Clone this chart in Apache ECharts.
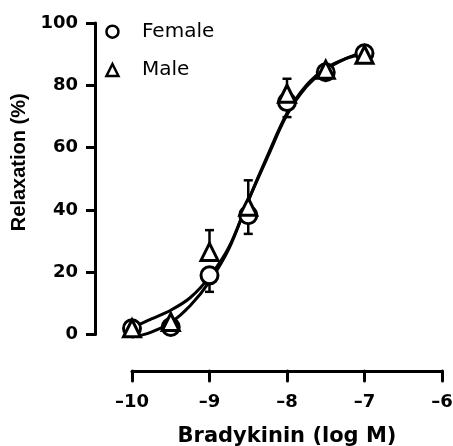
<!DOCTYPE html>
<html>
<head>
<meta charset="utf-8">
<script src="https://cdn.jsdelivr.net/npm/echarts@6/dist/echarts.min.js"></script>
<style>html,body{margin:0;padding:0;background:#fff}#c{width:453px;height:446px}</style>
</head>
<body>
<div id="c"></div>
<script>
// ---- data ----
const doses = [-10, -9.5, -9, -8.5, -8, -7.5, -7];
const femaleMean = [2, 2.4, 19, 38.3, 74.6, 84.2, 90.3];
const femaleSem  = [0, 0, 5.3, 6, 4.8, 0, 0];     // drawn downward
const maleMean   = [2, 4, 26.5, 41, 77.3, 85, 89.8];
const maleSem    = [0, 0, 7, 8.5, 4.8, 0, 0];     // drawn upward

const fitX      = [-10, -9.875, -9.75, -9.5, -9.25, -9, -8.75, -8.5, -8.25, -8, -7.75, -7.5, -7.25, -7];
const maleFit   = [2.5, 3.6, 5, 7.8, 11.8, 18.5, 28, 43, 57, 70.5, 79.5, 85, 88.5, 90.8];
const femaleFit = [-0.8, -0.2, 0.8, 3.8, 9.2, 17, 27.5, 43, 57.5, 71, 80, 85.5, 88.5, 90.3];

const xTickValues = [-10, -9, -8, -7, -6];
const xTickLabels = ['–10', '–9', '–8', '–7', '–6'];
const yTickValues = [0, 20, 40, 60, 80, 100];
const yTickLabels = ['0', '20', '40', '60', '80', '100'];

const seriesNames = ['Female', 'Male'];
const xTitle = 'Bradykinin (log M)';
const yTitle = 'Relaxation (%)';

// ---- build ----
const zip = (a, b) => a.map((v, i) => [v, b[i]]);
const errData = (means, sems, sign) => doses
  .map((d, i) => [d, means[i], sign * sems[i]])
  .filter(r => r[2] !== 0);

const errRender = function (params, api) {
  const x = api.value(0), y = api.value(1), e = api.value(2);
  const p0 = api.coord([x, y]);
  const p1 = api.coord([x, y + e]);
  const hw = 4.5;
  const st = { stroke: '#000', lineWidth: 2.5 };
  return {
    type: 'group',
    children: [
      { type: 'line', shape: { x1: p0[0], y1: p0[1], x2: p1[0], y2: p1[1] }, style: st },
      { type: 'line', shape: { x1: p1[0] - hw, y1: p1[1], x2: p1[0] + hw, y2: p1[1] }, style: st }
    ]
  };
};

const markerStyle = { color: '#fff', borderColor: '#000', borderWidth: 3, opacity: 1 };

const chart = echarts.init(document.getElementById('c'), null, { renderer: 'canvas' });
chart.setOption({
  animation: false,
  backgroundColor: '#fff',
  grid: { left: 132, right: 11, top: 23, bottom: 111.5, containLabel: false, outerBoundsMode: 'none' },
  legend: {
    orient: 'vertical',
    left: 105.2,
    top: 21.7,
    padding: 0,
    itemWidth: 12,
    itemHeight: 12,
    itemGap: 18.3,
    selectedMode: false,
    textStyle: { fontFamily: 'DejaVu Sans', fontSize: 20, color: '#000', lineHeight: 20, padding: [0, 0, 0, 18.5] },
    data: [
      { name: seriesNames[0], icon: 'circle', itemStyle: { color: '#fff', borderColor: '#000', borderWidth: 2.5 } },
      { name: seriesNames[1], icon: 'triangle', itemStyle: { color: '#fff', borderColor: '#000', borderWidth: 2.5 } }
    ]
  },
  xAxis: {
    type: 'value',
    min: -10, max: -6, interval: 1,
    offset: 36.5,
    name: xTitle,
    nameLocation: 'middle',
    nameGap: 55,
    nameTextStyle: { fontFamily: 'DejaVu Sans', fontWeight: 'bold', fontSize: 21, color: '#000' },
    axisLine: { show: true, onZero: false, lineStyle: { color: '#000', width: 3, cap: 'round' } },
    axisTick: { show: true, length: 10, lineStyle: { color: '#000', width: 3, cap: 'round' } },
    axisLabel: {
      margin: 22,
      fontFamily: 'DejaVu Sans', fontWeight: 'bold', fontSize: 18, color: '#000',
      formatter: v => { const i = xTickValues.indexOf(v); return i >= 0 ? xTickLabels[i] : ''; }
    },
    splitLine: { show: false }
  },
  yAxis: {
    type: 'value',
    min: 0, max: 100, interval: 20,
    offset: 37,
    name: yTitle,
    nameLocation: 'middle',
    nameGap: 60,
    nameTextStyle: { fontFamily: 'Liberation Sans', fontWeight: 'bold', fontSize: 20, color: '#000', padding: [0, 0, 0, 33] },
    axisLine: { show: true, lineStyle: { color: '#000', width: 3 } },
    axisTick: { show: true, length: 9, lineStyle: { color: '#000', width: 3 } },
    axisLabel: {
      margin: 17,
      fontFamily: 'DejaVu Sans', fontWeight: 'bold', fontSize: 18, color: '#000',
      formatter: v => { const i = yTickValues.indexOf(v); return i >= 0 ? yTickLabels[i] : ''; }
    },
    splitLine: { show: false }
  },
  series: [
    { name: 'femaleErr', type: 'custom', renderItem: errRender, data: errData(femaleMean, femaleSem, -1), z: 1, clip: false, silent: true },
    { name: 'maleErr', type: 'custom', renderItem: errRender, data: errData(maleMean, maleSem, 1), z: 1, clip: false, silent: true },
    { name: 'femaleFit', type: 'line', data: zip(fitX, femaleFit), showSymbol: false, smooth: 0.35, clip: false,
      lineStyle: { color: '#000', width: 3 }, z: 2, silent: true },
    { name: 'maleFit', type: 'line', data: zip(fitX, maleFit), showSymbol: false, smooth: 0.35, clip: false,
      lineStyle: { color: '#000', width: 3 }, z: 2, silent: true },
    { name: seriesNames[0], type: 'scatter', data: zip(doses, femaleMean), symbol: 'circle', symbolSize: 17,
      itemStyle: markerStyle, z: 3, clip: false },
    { name: seriesNames[1], type: 'scatter', data: zip(doses, maleMean), symbol: 'triangle', symbolSize: 17,
      itemStyle: markerStyle, z: 4, clip: false }
  ]
});
</script>
</body>
</html>
